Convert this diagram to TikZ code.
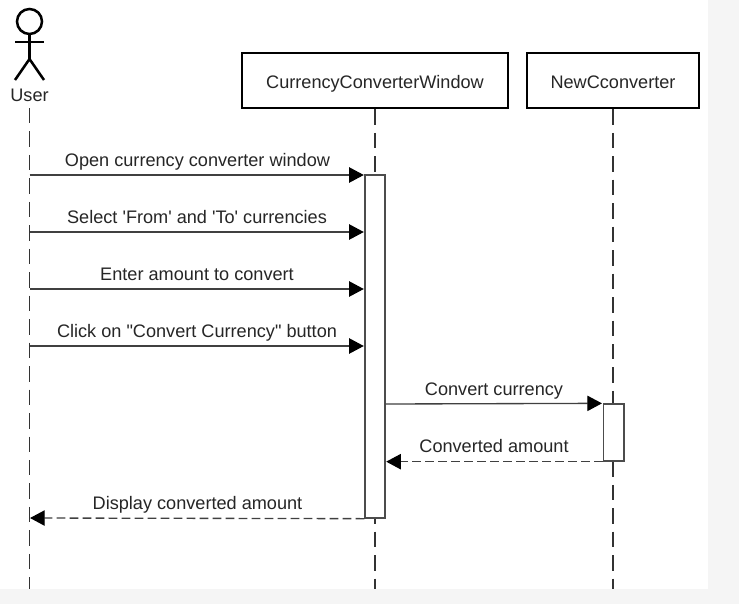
\documentclass[tikz,border=0pt]{standalone}
\usepackage{fontspec}
\setmainfont{Liberation Sans}
\usetikzlibrary{arrows.meta}
\tikzset{
  objbox/.style={draw=black, line width=2pt, fill=white, minimum height=41.25pt, inner sep=0pt, text height=12pt, text depth=0pt, font=\fontsize{13.6}{15}\selectfont, text=black!85},
  lifeline/.style={draw=black!80, line width=1pt, dash pattern=on 11.6pt off 6pt},
  actbox/.style={draw=black!70, line width=1pt, fill=white, inner sep=0pt},
  msg/.style={draw=black!75, line width=1pt, -{Triangle[length=11pt,width=11.5pt,color=black]}, shorten >=0.4pt},
  ret/.style={msg, dash pattern=on 6.5pt off 3.25pt},
  msglabel/.style={font=\fontsize{13.6}{15}\selectfont, text=black!85, inner sep=0pt}
}
\begin{document}
\begin{tikzpicture}[x=0.75pt,y=-0.75pt]
\useasboundingbox (0,0) rectangle (739,604);
\fill[black!4] (0,0) rectangle (739,604);
\fill[white] (0,0) rectangle (708,589);
% lifelines
\node[objbox, minimum width=199.5pt] (window) at (375,80.5) {CurrencyConverterWindow};
\node[objbox, minimum width=129pt] (conv) at (613,80.5) {NewCconverter};
\node[msglabel] (user) at (29.5,95) {User};
\coordinate (userend) at (29.5,589);
\coordinate (windowend) at (375,589);
\coordinate (convend) at (613,589);
\coordinate (userstart) at (29.5,108);
\draw[lifeline] (userstart) -- (userend);
\draw[lifeline] (window.south) -- (windowend);
\draw[lifeline] (conv.south) -- (convend);
% stick figure
\coordinate (head) at (29.5,21.5);
\draw[line width=1.9pt] (head) circle (12.5);
\coordinate (neck) at (29.5,34);
\coordinate (hip) at (29.5,59);
\coordinate (armL) at (15,42);
\coordinate (armR) at (44,42);
\coordinate (footL) at (15,80);
\coordinate (footR) at (44,80);
\draw[line width=1.9pt] (neck) -- (hip);
\draw[line width=1.9pt] (armL) -- (armR);
\draw[line width=1.9pt] (footL) -- (hip) -- (footR);
% activations
\node[actbox, minimum width=15pt, minimum height=257.25pt] (actA) at (375,346.5) {};
\node[actbox, minimum width=15.5pt, minimum height=42.75pt] (actB) at (613.5,432.5) {};
% messages
\foreach \y/\name/\txt/\lx in {175/a/{Open currency converter window}/197.5,
  232/b/{Select \textquotesingle From\textquotesingle{} and \textquotesingle To\textquotesingle{} currencies}/197,
  289/c/{Enter amount to convert}/197,
  346/d/{Click on \textquotedbl Convert Currency\textquotedbl{} button}/197}{
  \coordinate (from\name) at (29.5,\y);
  \coordinate (to\name) at (actA.west |- from\name);
  \draw[msg] (from\name) -- (to\name);
  \node[msglabel, anchor=base] (lab\name) at (\lx,\y-8.5) {\txt};
}
\coordinate (frome) at (actA.east |- 0,404);
\draw[msg] (frome) -- (actB.north west);
\node[msglabel, anchor=base] (labe) at (494,395.5) {Convert currency};
\draw[ret] (actB.south west) -- (actA.east |- actB.south west);
\node[msglabel, anchor=base] (labf) at (494,452.5) {Converted amount};
\coordinate (tog) at (29.5,518);
\draw[ret] (actA.south west) -- (tog);
\node[msglabel, anchor=base] (labg) at (197.5,509.5) {Display converted amount};
\end{tikzpicture}
\end{document}
